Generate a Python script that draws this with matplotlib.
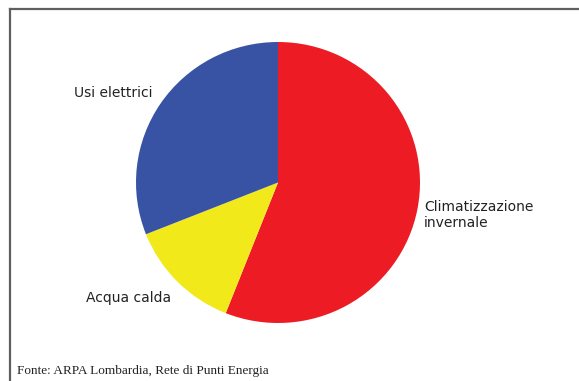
"""Pie chart: consumi energetici domestici"""

import matplotlib.pyplot as plt
from matplotlib.lines import Line2D

# dati
labels = ["Climatizzazione\ninvernale", "Acqua calda", "Usi elettrici"]
values = [56, 13, 31]
colors = ["#ED1C24", "#F2E91B", "#3953A4"]

fig = plt.figure(figsize=(5.79, 3.81), dpi=100)

# axes placed so the pie fills the same box as the original
ax = fig.add_axes([136 / 579, 1 - 323 / 381, 284 / 579, 281 / 381])
ax.pie(values, colors=colors, startangle=90, counterclock=False,
       radius=1, wedgeprops=dict(linewidth=0))
ax.set_aspect("auto")
ax.set_xlim(-1, 1)
ax.set_ylim(-1, 1)
ax.axis("off")

# etichette
fig.text(424 / 579, 1 - 215 / 381, labels[0], fontsize=10, color="#222222",
         ha="left", va="center", linespacing=1.2)
fig.text(129 / 579, 1 - 298 / 381, labels[1], fontsize=10, color="#222222",
         ha="center", va="center")
fig.text(113 / 579, 1 - 93 / 381, labels[2], fontsize=10, color="#222222",
         ha="center", va="center")

# fonte
fig.text(17 / 579, 1 - 371 / 381, "Fonte: ARPA Lombardia, Rete di Punti Energia",
         fontsize=9.5, family="Liberation Serif", color="#222222",
         ha="left", va="center")

# cornice (only top and left visible)
y_top = 1 - 8.5 / 381
x_left = 10 / 579
fig.add_artist(Line2D([x_left, 1.01], [y_top, y_top], color="#5f5f5f",
                      linewidth=1.6, transform=fig.transFigure))
fig.add_artist(Line2D([x_left, x_left], [y_top, -0.01], color="#5f5f5f",
                      linewidth=1.6, transform=fig.transFigure))

fig.savefig("out.png", dpi=100)
